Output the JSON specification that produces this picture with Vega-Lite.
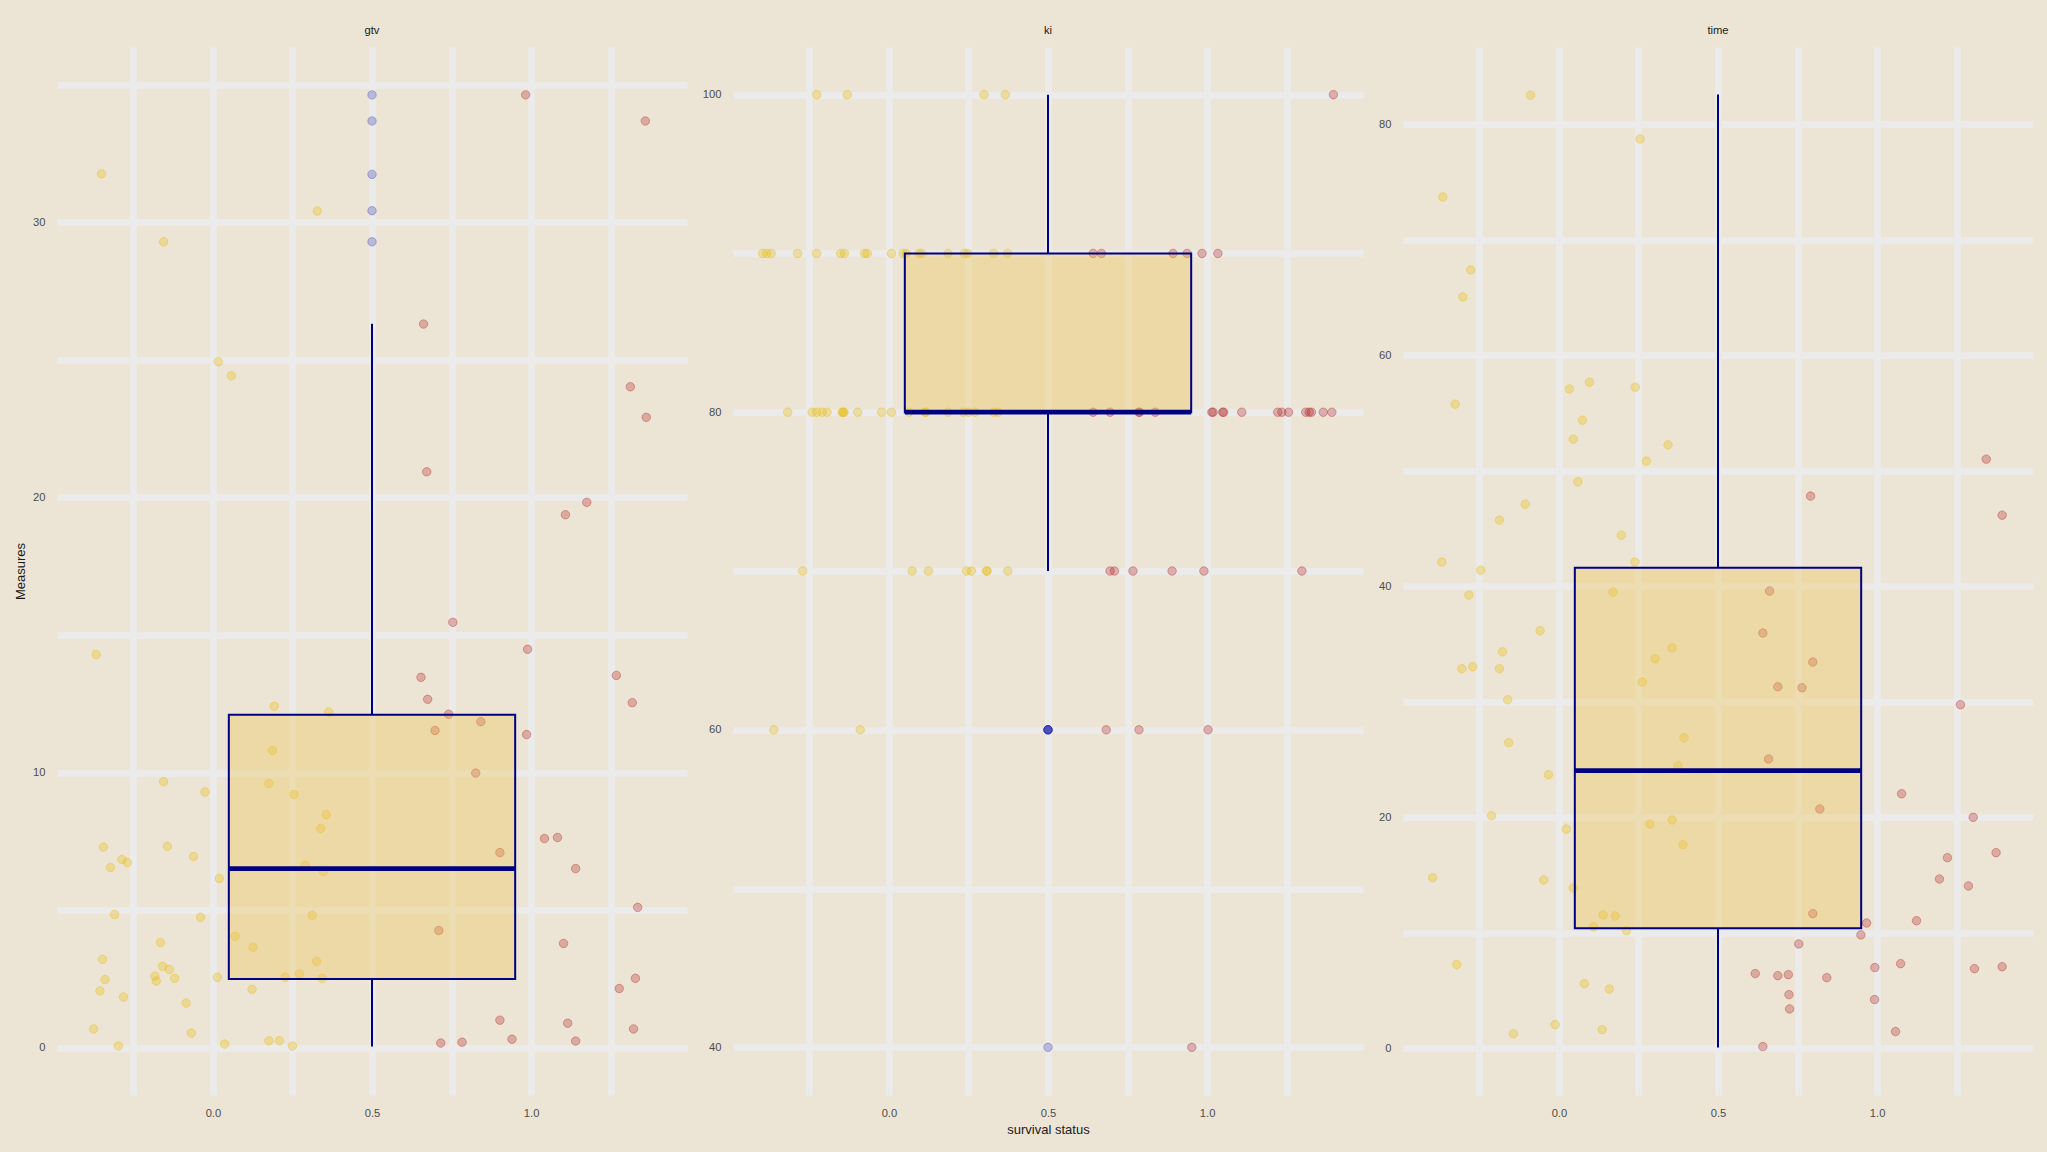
{
  "$schema": "https://vega.github.io/schema/vega-lite/v6.json",
  "background": "#ECE5D5",
  "padding": {"left": 14, "top": 24, "right": 15, "bottom": 15},
  "spacing": 15,
  "config": {
    "view": {"stroke": null},
    "font": "Liberation Sans",
    "axis": {"domain": false, "ticks": false, "grid": true, "gridColor": "#EBEBEB", "gridWidth": 6.5, "labelFontSize": 11.2, "labelColor": "#4D4D4D", "labelPadding": 12, "labelOverlap": false, "titleFontSize": 13, "titleFontWeight": "normal", "titleColor": "#1A1A1A"},
    "axisY": {"titlePadding": 5},
    "axisX": {"titlePadding": 5.5},
    "title": {"fontSize": 11.2, "fontWeight": "normal", "color": "#1A1A1A", "offset": 11, "anchor": "middle"}
  },
  "datasets": {
    "boxes": [
      {"measure": "gtv", "lo": 0.04, "q1": 2.5, "median": 6.51, "q3": 12.1, "hi": 26.31},
      {"measure": "ki", "lo": 70, "q1": 80, "median": 80, "q3": 90, "hi": 100},
      {"measure": "time", "lo": 0.07, "q1": 10.39, "median": 24.03, "q3": 41.59, "hi": 82.56}
    ],
    "outliers": [
      {"measure": "gtv", "value": 34.63}, {"measure": "gtv", "value": 33.68}, {"measure": "gtv", "value": 31.74}, {"measure": "gtv", "value": 30.42}, {"measure": "gtv", "value": 29.29},
      {"measure": "ki", "value": 60}, {"measure": "ki", "value": 60}, {"measure": "ki", "value": 60}, {"measure": "ki", "value": 60}, {"measure": "ki", "value": 60}, {"measure": "ki", "value": 40}
    ],
    "points": [
      {"measure": "gtv", "status": 0, "jitter": -0.350, "value": 31.76},
      {"measure": "gtv", "status": 0, "jitter": 0.328, "value": 30.41},
      {"measure": "gtv", "status": 0, "jitter": -0.155, "value": 29.29},
      {"measure": "gtv", "status": 0, "jitter": 0.017, "value": 24.93},
      {"measure": "gtv", "status": 0, "jitter": 0.058, "value": 24.42},
      {"measure": "gtv", "status": 0, "jitter": -0.367, "value": 14.29},
      {"measure": "gtv", "status": 0, "jitter": 0.193, "value": 12.41},
      {"measure": "gtv", "status": 0, "jitter": 0.364, "value": 12.20},
      {"measure": "gtv", "status": 0, "jitter": 0.187, "value": 10.80},
      {"measure": "gtv", "status": 0, "jitter": -0.155, "value": 9.67},
      {"measure": "gtv", "status": 0, "jitter": 0.176, "value": 9.60},
      {"measure": "gtv", "status": 0, "jitter": -0.025, "value": 9.29},
      {"measure": "gtv", "status": 0, "jitter": 0.255, "value": 9.20},
      {"measure": "gtv", "status": 0, "jitter": 0.356, "value": 8.47},
      {"measure": "gtv", "status": 0, "jitter": 0.339, "value": 7.97},
      {"measure": "gtv", "status": 0, "jitter": -0.344, "value": 7.29},
      {"measure": "gtv", "status": 0, "jitter": -0.143, "value": 7.32},
      {"measure": "gtv", "status": 0, "jitter": -0.061, "value": 6.95},
      {"measure": "gtv", "status": 0, "jitter": -0.286, "value": 6.84},
      {"measure": "gtv", "status": 0, "jitter": -0.269, "value": 6.73},
      {"measure": "gtv", "status": 0, "jitter": -0.322, "value": 6.55},
      {"measure": "gtv", "status": 0, "jitter": 0.290, "value": 6.63},
      {"measure": "gtv", "status": 0, "jitter": 0.347, "value": 6.40},
      {"measure": "gtv", "status": 0, "jitter": 0.020, "value": 6.15},
      {"measure": "gtv", "status": 0, "jitter": -0.309, "value": 4.84},
      {"measure": "gtv", "status": 0, "jitter": -0.039, "value": 4.74},
      {"measure": "gtv", "status": 0, "jitter": 0.312, "value": 4.81},
      {"measure": "gtv", "status": 0, "jitter": 0.070, "value": 4.05},
      {"measure": "gtv", "status": 0, "jitter": 0.126, "value": 3.65},
      {"measure": "gtv", "status": 0, "jitter": -0.165, "value": 3.82},
      {"measure": "gtv", "status": 0, "jitter": -0.347, "value": 3.21},
      {"measure": "gtv", "status": 0, "jitter": 0.326, "value": 3.13},
      {"measure": "gtv", "status": 0, "jitter": -0.158, "value": 2.96},
      {"measure": "gtv", "status": 0, "jitter": -0.137, "value": 2.84},
      {"measure": "gtv", "status": 0, "jitter": -0.182, "value": 2.60},
      {"measure": "gtv", "status": 0, "jitter": -0.120, "value": 2.52},
      {"measure": "gtv", "status": 0, "jitter": 0.014, "value": 2.56},
      {"measure": "gtv", "status": 0, "jitter": 0.227, "value": 2.56},
      {"measure": "gtv", "status": 0, "jitter": 0.272, "value": 2.69},
      {"measure": "gtv", "status": 0, "jitter": 0.343, "value": 2.52},
      {"measure": "gtv", "status": 0, "jitter": -0.339, "value": 2.48},
      {"measure": "gtv", "status": 0, "jitter": -0.178, "value": 2.42},
      {"measure": "gtv", "status": 0, "jitter": -0.355, "value": 2.06},
      {"measure": "gtv", "status": 0, "jitter": 0.123, "value": 2.12},
      {"measure": "gtv", "status": 0, "jitter": -0.281, "value": 1.84},
      {"measure": "gtv", "status": 0, "jitter": -0.084, "value": 1.62},
      {"measure": "gtv", "status": 0, "jitter": -0.375, "value": 0.68},
      {"measure": "gtv", "status": 0, "jitter": -0.068, "value": 0.53},
      {"measure": "gtv", "status": 0, "jitter": 0.176, "value": 0.25},
      {"measure": "gtv", "status": 0, "jitter": 0.209, "value": 0.25},
      {"measure": "gtv", "status": 0, "jitter": 0.037, "value": 0.13},
      {"measure": "gtv", "status": 0, "jitter": -0.297, "value": 0.06},
      {"measure": "gtv", "status": 0, "jitter": 0.250, "value": 0.06},
      {"measure": "gtv", "status": 1, "jitter": 0.983, "value": 34.63},
      {"measure": "gtv", "status": 1, "jitter": 1.359, "value": 33.68},
      {"measure": "gtv", "status": 1, "jitter": 0.662, "value": 26.30},
      {"measure": "gtv", "status": 1, "jitter": 1.312, "value": 24.02},
      {"measure": "gtv", "status": 1, "jitter": 1.362, "value": 22.91},
      {"measure": "gtv", "status": 1, "jitter": 0.672, "value": 20.93},
      {"measure": "gtv", "status": 1, "jitter": 1.175, "value": 19.82},
      {"measure": "gtv", "status": 1, "jitter": 1.108, "value": 19.37},
      {"measure": "gtv", "status": 1, "jitter": 0.754, "value": 15.46},
      {"measure": "gtv", "status": 1, "jitter": 0.989, "value": 14.48},
      {"measure": "gtv", "status": 1, "jitter": 0.654, "value": 13.46},
      {"measure": "gtv", "status": 1, "jitter": 1.268, "value": 13.53},
      {"measure": "gtv", "status": 1, "jitter": 0.675, "value": 12.66},
      {"measure": "gtv", "status": 1, "jitter": 1.318, "value": 12.54},
      {"measure": "gtv", "status": 1, "jitter": 0.741, "value": 12.12},
      {"measure": "gtv", "status": 1, "jitter": 0.842, "value": 11.85},
      {"measure": "gtv", "status": 1, "jitter": 0.698, "value": 11.53},
      {"measure": "gtv", "status": 1, "jitter": 0.986, "value": 11.38},
      {"measure": "gtv", "status": 1, "jitter": 0.826, "value": 9.98},
      {"measure": "gtv", "status": 1, "jitter": 1.042, "value": 7.60},
      {"measure": "gtv", "status": 1, "jitter": 1.083, "value": 7.64},
      {"measure": "gtv", "status": 1, "jitter": 0.902, "value": 7.09},
      {"measure": "gtv", "status": 1, "jitter": 1.140, "value": 6.51},
      {"measure": "gtv", "status": 1, "jitter": 1.335, "value": 5.10},
      {"measure": "gtv", "status": 1, "jitter": 0.710, "value": 4.26},
      {"measure": "gtv", "status": 1, "jitter": 1.102, "value": 3.79},
      {"measure": "gtv", "status": 1, "jitter": 1.328, "value": 2.52},
      {"measure": "gtv", "status": 1, "jitter": 1.277, "value": 2.15},
      {"measure": "gtv", "status": 1, "jitter": 0.902, "value": 1.00},
      {"measure": "gtv", "status": 1, "jitter": 1.115, "value": 0.89},
      {"measure": "gtv", "status": 1, "jitter": 1.322, "value": 0.68},
      {"measure": "gtv", "status": 1, "jitter": 0.940, "value": 0.31},
      {"measure": "gtv", "status": 1, "jitter": 1.140, "value": 0.24},
      {"measure": "gtv", "status": 1, "jitter": 0.716, "value": 0.17},
      {"measure": "gtv", "status": 1, "jitter": 0.783, "value": 0.20},
      {"measure": "ki", "status": 0, "jitter": -0.227, "value": 100},
      {"measure": "ki", "status": 0, "jitter": -0.131, "value": 100},
      {"measure": "ki", "status": 0, "jitter": 0.299, "value": 100},
      {"measure": "ki", "status": 0, "jitter": 0.366, "value": 100},
      {"measure": "ki", "status": 0, "jitter": -0.397, "value": 90},
      {"measure": "ki", "status": 0, "jitter": -0.384, "value": 90},
      {"measure": "ki", "status": 0, "jitter": -0.370, "value": 90},
      {"measure": "ki", "status": 0, "jitter": -0.287, "value": 90},
      {"measure": "ki", "status": 0, "jitter": -0.227, "value": 90},
      {"measure": "ki", "status": 0, "jitter": -0.152, "value": 90},
      {"measure": "ki", "status": 0, "jitter": -0.140, "value": 90},
      {"measure": "ki", "status": 0, "jitter": -0.076, "value": 90},
      {"measure": "ki", "status": 0, "jitter": -0.068, "value": 90},
      {"measure": "ki", "status": 0, "jitter": 0.008, "value": 90},
      {"measure": "ki", "status": 0, "jitter": 0.044, "value": 90},
      {"measure": "ki", "status": 0, "jitter": 0.054, "value": 90},
      {"measure": "ki", "status": 0, "jitter": 0.094, "value": 90},
      {"measure": "ki", "status": 0, "jitter": 0.103, "value": 90},
      {"measure": "ki", "status": 0, "jitter": 0.186, "value": 90},
      {"measure": "ki", "status": 0, "jitter": 0.237, "value": 90},
      {"measure": "ki", "status": 0, "jitter": 0.248, "value": 90},
      {"measure": "ki", "status": 0, "jitter": 0.329, "value": 90},
      {"measure": "ki", "status": 0, "jitter": 0.373, "value": 90},
      {"measure": "ki", "status": 0, "jitter": -0.318, "value": 80},
      {"measure": "ki", "status": 0, "jitter": -0.241, "value": 80},
      {"measure": "ki", "status": 0, "jitter": -0.227, "value": 80},
      {"measure": "ki", "status": 0, "jitter": -0.210, "value": 80},
      {"measure": "ki", "status": 0, "jitter": -0.195, "value": 80},
      {"measure": "ki", "status": 0, "jitter": -0.147, "value": 80},
      {"measure": "ki", "status": 0, "jitter": -0.144, "value": 80},
      {"measure": "ki", "status": 0, "jitter": -0.141, "value": 80},
      {"measure": "ki", "status": 0, "jitter": -0.098, "value": 80},
      {"measure": "ki", "status": 0, "jitter": -0.023, "value": 80},
      {"measure": "ki", "status": 0, "jitter": 0.008, "value": 80},
      {"measure": "ki", "status": 0, "jitter": 0.063, "value": 80},
      {"measure": "ki", "status": 0, "jitter": 0.113, "value": 80},
      {"measure": "ki", "status": 0, "jitter": 0.117, "value": 80},
      {"measure": "ki", "status": 0, "jitter": 0.186, "value": 80},
      {"measure": "ki", "status": 0, "jitter": 0.234, "value": 80},
      {"measure": "ki", "status": 0, "jitter": 0.250, "value": 80},
      {"measure": "ki", "status": 0, "jitter": 0.271, "value": 80},
      {"measure": "ki", "status": 0, "jitter": 0.329, "value": 80},
      {"measure": "ki", "status": 0, "jitter": 0.343, "value": 80},
      {"measure": "ki", "status": 0, "jitter": -0.271, "value": 70},
      {"measure": "ki", "status": 0, "jitter": 0.073, "value": 70},
      {"measure": "ki", "status": 0, "jitter": 0.124, "value": 70},
      {"measure": "ki", "status": 0, "jitter": 0.244, "value": 70},
      {"measure": "ki", "status": 0, "jitter": 0.259, "value": 70},
      {"measure": "ki", "status": 0, "jitter": 0.306, "value": 70},
      {"measure": "ki", "status": 0, "jitter": 0.309, "value": 70},
      {"measure": "ki", "status": 0, "jitter": 0.374, "value": 70},
      {"measure": "ki", "status": 0, "jitter": -0.362, "value": 60},
      {"measure": "ki", "status": 0, "jitter": -0.090, "value": 60},
      {"measure": "ki", "status": 1, "jitter": 1.397, "value": 100},
      {"measure": "ki", "status": 1, "jitter": 0.642, "value": 90},
      {"measure": "ki", "status": 1, "jitter": 0.668, "value": 90},
      {"measure": "ki", "status": 1, "jitter": 0.893, "value": 90},
      {"measure": "ki", "status": 1, "jitter": 0.937, "value": 90},
      {"measure": "ki", "status": 1, "jitter": 0.984, "value": 90},
      {"measure": "ki", "status": 1, "jitter": 1.034, "value": 90},
      {"measure": "ki", "status": 1, "jitter": 0.642, "value": 80},
      {"measure": "ki", "status": 1, "jitter": 0.695, "value": 80},
      {"measure": "ki", "status": 1, "jitter": 0.785, "value": 80},
      {"measure": "ki", "status": 1, "jitter": 0.788, "value": 80},
      {"measure": "ki", "status": 1, "jitter": 0.837, "value": 80},
      {"measure": "ki", "status": 1, "jitter": 1.015, "value": 80},
      {"measure": "ki", "status": 1, "jitter": 1.019, "value": 80},
      {"measure": "ki", "status": 1, "jitter": 1.049, "value": 80},
      {"measure": "ki", "status": 1, "jitter": 1.052, "value": 80},
      {"measure": "ki", "status": 1, "jitter": 1.109, "value": 80},
      {"measure": "ki", "status": 1, "jitter": 1.222, "value": 80},
      {"measure": "ki", "status": 1, "jitter": 1.235, "value": 80},
      {"measure": "ki", "status": 1, "jitter": 1.256, "value": 80},
      {"measure": "ki", "status": 1, "jitter": 1.310, "value": 80},
      {"measure": "ki", "status": 1, "jitter": 1.321, "value": 80},
      {"measure": "ki", "status": 1, "jitter": 1.328, "value": 80},
      {"measure": "ki", "status": 1, "jitter": 1.365, "value": 80},
      {"measure": "ki", "status": 1, "jitter": 1.392, "value": 80},
      {"measure": "ki", "status": 1, "jitter": 0.695, "value": 70},
      {"measure": "ki", "status": 1, "jitter": 0.709, "value": 70},
      {"measure": "ki", "status": 1, "jitter": 0.767, "value": 70},
      {"measure": "ki", "status": 1, "jitter": 0.890, "value": 70},
      {"measure": "ki", "status": 1, "jitter": 0.990, "value": 70},
      {"measure": "ki", "status": 1, "jitter": 1.298, "value": 70},
      {"measure": "ki", "status": 1, "jitter": 0.683, "value": 60},
      {"measure": "ki", "status": 1, "jitter": 0.786, "value": 60},
      {"measure": "ki", "status": 1, "jitter": 1.003, "value": 60},
      {"measure": "ki", "status": 1, "jitter": 0.952, "value": 40},
      {"measure": "time", "status": 0, "jitter": -0.089, "value": 82.50},
      {"measure": "time", "status": 0, "jitter": 0.255, "value": 78.72},
      {"measure": "time", "status": 0, "jitter": -0.365, "value": 73.70},
      {"measure": "time", "status": 0, "jitter": -0.277, "value": 67.38},
      {"measure": "time", "status": 0, "jitter": -0.302, "value": 65.04},
      {"measure": "time", "status": 0, "jitter": 0.096, "value": 57.66},
      {"measure": "time", "status": 0, "jitter": 0.033, "value": 57.08},
      {"measure": "time", "status": 0, "jitter": 0.240, "value": 57.23},
      {"measure": "time", "status": 0, "jitter": -0.326, "value": 55.76},
      {"measure": "time", "status": 0, "jitter": 0.074, "value": 54.37},
      {"measure": "time", "status": 0, "jitter": 0.045, "value": 52.73},
      {"measure": "time", "status": 0, "jitter": 0.343, "value": 52.24},
      {"measure": "time", "status": 0, "jitter": 0.275, "value": 50.83},
      {"measure": "time", "status": 0, "jitter": 0.060, "value": 49.04},
      {"measure": "time", "status": 0, "jitter": -0.106, "value": 47.10},
      {"measure": "time", "status": 0, "jitter": -0.187, "value": 45.72},
      {"measure": "time", "status": 0, "jitter": 0.196, "value": 44.42},
      {"measure": "time", "status": 0, "jitter": -0.368, "value": 42.09},
      {"measure": "time", "status": 0, "jitter": 0.239, "value": 42.09},
      {"measure": "time", "status": 0, "jitter": -0.246, "value": 41.39},
      {"measure": "time", "status": 0, "jitter": -0.283, "value": 39.23},
      {"measure": "time", "status": 0, "jitter": 0.170, "value": 39.49},
      {"measure": "time", "status": 0, "jitter": -0.059, "value": 36.14},
      {"measure": "time", "status": 0, "jitter": -0.177, "value": 34.32},
      {"measure": "time", "status": 0, "jitter": 0.356, "value": 34.67},
      {"measure": "time", "status": 0, "jitter": 0.302, "value": 33.72},
      {"measure": "time", "status": 0, "jitter": -0.305, "value": 32.85},
      {"measure": "time", "status": 0, "jitter": -0.271, "value": 33.03},
      {"measure": "time", "status": 0, "jitter": -0.187, "value": 32.85},
      {"measure": "time", "status": 0, "jitter": 0.262, "value": 31.70},
      {"measure": "time", "status": 0, "jitter": -0.161, "value": 30.17},
      {"measure": "time", "status": 0, "jitter": -0.158, "value": 26.45},
      {"measure": "time", "status": 0, "jitter": 0.393, "value": 26.88},
      {"measure": "time", "status": 0, "jitter": 0.374, "value": 24.46},
      {"measure": "time", "status": 0, "jitter": -0.033, "value": 23.68},
      {"measure": "time", "status": 0, "jitter": -0.212, "value": 20.13},
      {"measure": "time", "status": 0, "jitter": 0.023, "value": 18.98},
      {"measure": "time", "status": 0, "jitter": 0.286, "value": 19.41},
      {"measure": "time", "status": 0, "jitter": 0.356, "value": 19.76},
      {"measure": "time", "status": 0, "jitter": 0.390, "value": 17.62},
      {"measure": "time", "status": 0, "jitter": -0.397, "value": 14.76},
      {"measure": "time", "status": 0, "jitter": -0.048, "value": 14.57},
      {"measure": "time", "status": 0, "jitter": 0.045, "value": 13.87},
      {"measure": "time", "status": 0, "jitter": 0.139, "value": 11.54},
      {"measure": "time", "status": 0, "jitter": 0.177, "value": 11.45},
      {"measure": "time", "status": 0, "jitter": 0.109, "value": 10.52},
      {"measure": "time", "status": 0, "jitter": 0.212, "value": 10.18},
      {"measure": "time", "status": 0, "jitter": -0.321, "value": 7.24},
      {"measure": "time", "status": 0, "jitter": 0.080, "value": 5.59},
      {"measure": "time", "status": 0, "jitter": 0.158, "value": 5.13},
      {"measure": "time", "status": 0, "jitter": -0.012, "value": 2.04},
      {"measure": "time", "status": 0, "jitter": -0.143, "value": 1.26},
      {"measure": "time", "status": 0, "jitter": 0.136, "value": 1.61},
      {"measure": "time", "status": 1, "jitter": 1.343, "value": 51.00},
      {"measure": "time", "status": 1, "jitter": 0.791, "value": 47.80},
      {"measure": "time", "status": 1, "jitter": 1.393, "value": 46.15},
      {"measure": "time", "status": 1, "jitter": 0.662, "value": 39.58},
      {"measure": "time", "status": 1, "jitter": 0.641, "value": 35.94},
      {"measure": "time", "status": 1, "jitter": 0.798, "value": 33.43},
      {"measure": "time", "status": 1, "jitter": 0.688, "value": 31.29},
      {"measure": "time", "status": 1, "jitter": 0.764, "value": 31.21},
      {"measure": "time", "status": 1, "jitter": 1.262, "value": 29.74},
      {"measure": "time", "status": 1, "jitter": 0.659, "value": 25.04},
      {"measure": "time", "status": 1, "jitter": 1.077, "value": 22.03},
      {"measure": "time", "status": 1, "jitter": 0.820, "value": 20.71},
      {"measure": "time", "status": 1, "jitter": 1.302, "value": 19.99},
      {"measure": "time", "status": 1, "jitter": 1.374, "value": 16.93},
      {"measure": "time", "status": 1, "jitter": 1.221, "value": 16.50},
      {"measure": "time", "status": 1, "jitter": 1.196, "value": 14.65},
      {"measure": "time", "status": 1, "jitter": 1.287, "value": 14.05},
      {"measure": "time", "status": 1, "jitter": 0.798, "value": 11.65},
      {"measure": "time", "status": 1, "jitter": 1.124, "value": 11.04},
      {"measure": "time", "status": 1, "jitter": 0.967, "value": 10.84},
      {"measure": "time", "status": 1, "jitter": 0.949, "value": 9.81},
      {"measure": "time", "status": 1, "jitter": 0.754, "value": 9.03},
      {"measure": "time", "status": 1, "jitter": 1.074, "value": 7.32},
      {"measure": "time", "status": 1, "jitter": 0.993, "value": 6.98},
      {"measure": "time", "status": 1, "jitter": 1.306, "value": 6.89},
      {"measure": "time", "status": 1, "jitter": 1.393, "value": 7.06},
      {"measure": "time", "status": 1, "jitter": 0.617, "value": 6.46},
      {"measure": "time", "status": 1, "jitter": 0.688, "value": 6.28},
      {"measure": "time", "status": 1, "jitter": 0.721, "value": 6.37},
      {"measure": "time", "status": 1, "jitter": 0.842, "value": 6.11},
      {"measure": "time", "status": 1, "jitter": 0.723, "value": 4.64},
      {"measure": "time", "status": 1, "jitter": 0.992, "value": 4.21},
      {"measure": "time", "status": 1, "jitter": 0.725, "value": 3.40},
      {"measure": "time", "status": 1, "jitter": 1.058, "value": 1.44},
      {"measure": "time", "status": 1, "jitter": 0.641, "value": 0.14}
    ]
  },
  "hconcat": [
    {
      "width": 630, "height": 1048,
      "title": {"text": "gtv"},
      "layer": [
        {
          "data": {"name": "points"},
          "transform": [{"filter": "datum.measure === 'gtv'"}],
          "mark": {"type": "circle", "size": 72, "fillOpacity": 0.3, "strokeOpacity": 0.45, "strokeWidth": 0.8},
          "encoding": {
            "x": {"field": "jitter", "type": "quantitative", "title": null, "scale": {"domain": [-0.49, 1.49], "nice": false, "zero": false},
                  "axis": {"values": [-0.25, 0, 0.25, 0.5, 0.75, 1, 1.25], "labelExpr": "datum.value === 0 || datum.value === 0.5 || datum.value === 1 ? format(datum.value, '.1f') : ''"}},
            "y": {"field": "value", "type": "quantitative", "title": "Measures", "scale": {"domain": [-1.72, 36.37], "nice": false, "zero": false},
                  "axis": {"values": [0, 5, 10, 15, 20, 25, 30, 35], "labelExpr": "datum.value % 10 === 0 ? datum.label : ''"}},
            "color": {"field": "status", "type": "nominal", "scale": {"domain": [0, 1], "range": ["#E7B800", "#B22222"]}, "legend": null},
            "stroke": {"field": "status", "type": "nominal", "scale": {"domain": [0, 1], "range": ["#E7B800", "#B22222"]}, "legend": null}
          }
        },
        {
          "data": {"name": "boxes"},
          "transform": [{"filter": "datum.measure === 'gtv'"}],
          "mark": {"type": "rect", "fill": "#EFC34E", "fillOpacity": 0.35, "stroke": "#000080", "strokeWidth": 2},
          "encoding": {"x": {"datum": 0.05, "type": "quantitative", "title": null}, "x2": {"datum": 0.95}, "y": {"field": "q1", "type": "quantitative", "title": "Measures"}, "y2": {"field": "q3"}}
        },
        {
          "data": {"name": "boxes"},
          "transform": [{"filter": "datum.measure === 'gtv'"}],
          "mark": {"type": "rule", "color": "#000080", "strokeWidth": 2},
          "encoding": {"x": {"datum": 0.5, "type": "quantitative", "title": null}, "y": {"field": "lo", "type": "quantitative", "title": "Measures"}, "y2": {"field": "q1"}}
        },
        {
          "data": {"name": "boxes"},
          "transform": [{"filter": "datum.measure === 'gtv'"}],
          "mark": {"type": "rule", "color": "#000080", "strokeWidth": 2},
          "encoding": {"x": {"datum": 0.5, "type": "quantitative", "title": null}, "y": {"field": "q3", "type": "quantitative", "title": "Measures"}, "y2": {"field": "hi"}}
        },
        {
          "data": {"name": "boxes"},
          "transform": [{"filter": "datum.measure === 'gtv'"}],
          "mark": {"type": "rule", "color": "#000080", "strokeWidth": 4.7},
          "encoding": {"x": {"datum": 0.05, "type": "quantitative", "title": null}, "x2": {"datum": 0.95}, "y": {"field": "median", "type": "quantitative", "title": "Measures"}}
        },
        {
          "data": {"name": "outliers"},
          "transform": [{"filter": "datum.measure === 'gtv'"}],
          "mark": {"type": "circle", "size": 72, "color": "#2020B0", "fillOpacity": 0.25, "stroke": "#2020B0", "strokeOpacity": 0.35, "strokeWidth": 0.8},
          "encoding": {"x": {"datum": 0.5, "type": "quantitative", "title": null}, "y": {"field": "value", "type": "quantitative", "title": "Measures"}}
        }
      ]
    },
    {
      "width": 630, "height": 1048,
      "title": {"text": "ki"},
      "layer": [
        {
          "data": {"name": "points"},
          "transform": [{"filter": "datum.measure === 'ki'"}],
          "mark": {"type": "circle", "size": 72, "fillOpacity": 0.3, "strokeOpacity": 0.45, "strokeWidth": 0.8},
          "encoding": {
            "x": {"field": "jitter", "type": "quantitative", "title": "survival status", "scale": {"domain": [-0.49, 1.49], "nice": false, "zero": false},
                  "axis": {"values": [-0.25, 0, 0.25, 0.5, 0.75, 1, 1.25], "labelExpr": "datum.value === 0 || datum.value === 0.5 || datum.value === 1 ? format(datum.value, '.1f') : ''"}},
            "y": {"field": "value", "type": "quantitative", "title": null, "scale": {"domain": [37, 103], "nice": false, "zero": false},
                  "axis": {"values": [40, 50, 60, 70, 80, 90, 100], "labelExpr": "datum.value % 20 === 0 ? datum.label : ''"}},
            "color": {"field": "status", "type": "nominal", "scale": {"domain": [0, 1], "range": ["#E7B800", "#B22222"]}, "legend": null},
            "stroke": {"field": "status", "type": "nominal", "scale": {"domain": [0, 1], "range": ["#E7B800", "#B22222"]}, "legend": null}
          }
        },
        {
          "data": {"name": "boxes"},
          "transform": [{"filter": "datum.measure === 'ki'"}],
          "mark": {"type": "rect", "fill": "#EFC34E", "fillOpacity": 0.35, "stroke": "#000080", "strokeWidth": 2},
          "encoding": {"x": {"datum": 0.05, "type": "quantitative", "title": "survival status"}, "x2": {"datum": 0.95}, "y": {"field": "q1", "type": "quantitative", "title": null}, "y2": {"field": "q3"}}
        },
        {
          "data": {"name": "boxes"},
          "transform": [{"filter": "datum.measure === 'ki'"}],
          "mark": {"type": "rule", "color": "#000080", "strokeWidth": 2},
          "encoding": {"x": {"datum": 0.5, "type": "quantitative", "title": "survival status"}, "y": {"field": "lo", "type": "quantitative", "title": null}, "y2": {"field": "q1"}}
        },
        {
          "data": {"name": "boxes"},
          "transform": [{"filter": "datum.measure === 'ki'"}],
          "mark": {"type": "rule", "color": "#000080", "strokeWidth": 2},
          "encoding": {"x": {"datum": 0.5, "type": "quantitative", "title": "survival status"}, "y": {"field": "q3", "type": "quantitative", "title": null}, "y2": {"field": "hi"}}
        },
        {
          "data": {"name": "boxes"},
          "transform": [{"filter": "datum.measure === 'ki'"}],
          "mark": {"type": "rule", "color": "#000080", "strokeWidth": 4.7},
          "encoding": {"x": {"datum": 0.05, "type": "quantitative", "title": "survival status"}, "x2": {"datum": 0.95}, "y": {"field": "median", "type": "quantitative", "title": null}}
        },
        {
          "data": {"name": "outliers"},
          "transform": [{"filter": "datum.measure === 'ki'"}],
          "mark": {"type": "circle", "size": 72, "color": "#2020B0", "fillOpacity": 0.25, "stroke": "#2020B0", "strokeOpacity": 0.35, "strokeWidth": 0.8},
          "encoding": {"x": {"datum": 0.5, "type": "quantitative", "title": "survival status"}, "y": {"field": "value", "type": "quantitative", "title": null}}
        }
      ]
    },
    {
      "width": 630, "height": 1048,
      "title": {"text": "time"},
      "layer": [
        {
          "data": {"name": "points"},
          "transform": [{"filter": "datum.measure === 'time'"}],
          "mark": {"type": "circle", "size": 72, "fillOpacity": 0.3, "strokeOpacity": 0.45, "strokeWidth": 0.8},
          "encoding": {
            "x": {"field": "jitter", "type": "quantitative", "title": null, "scale": {"domain": [-0.49, 1.49], "nice": false, "zero": false},
                  "axis": {"values": [-0.25, 0, 0.25, 0.5, 0.75, 1, 1.25], "labelExpr": "datum.value === 0 || datum.value === 0.5 || datum.value === 1 ? format(datum.value, '.1f') : ''"}},
            "y": {"field": "value", "type": "quantitative", "title": null, "scale": {"domain": [-4.05, 86.68], "nice": false, "zero": false},
                  "axis": {"values": [0, 10, 20, 30, 40, 50, 60, 70, 80], "labelExpr": "datum.value % 20 === 0 ? datum.label : ''"}},
            "color": {"field": "status", "type": "nominal", "scale": {"domain": [0, 1], "range": ["#E7B800", "#B22222"]}, "legend": null},
            "stroke": {"field": "status", "type": "nominal", "scale": {"domain": [0, 1], "range": ["#E7B800", "#B22222"]}, "legend": null}
          }
        },
        {
          "data": {"name": "boxes"},
          "transform": [{"filter": "datum.measure === 'time'"}],
          "mark": {"type": "rect", "fill": "#EFC34E", "fillOpacity": 0.35, "stroke": "#000080", "strokeWidth": 2},
          "encoding": {"x": {"datum": 0.05, "type": "quantitative", "title": null}, "x2": {"datum": 0.95}, "y": {"field": "q1", "type": "quantitative", "title": null}, "y2": {"field": "q3"}}
        },
        {
          "data": {"name": "boxes"},
          "transform": [{"filter": "datum.measure === 'time'"}],
          "mark": {"type": "rule", "color": "#000080", "strokeWidth": 2},
          "encoding": {"x": {"datum": 0.5, "type": "quantitative", "title": null}, "y": {"field": "lo", "type": "quantitative", "title": null}, "y2": {"field": "q1"}}
        },
        {
          "data": {"name": "boxes"},
          "transform": [{"filter": "datum.measure === 'time'"}],
          "mark": {"type": "rule", "color": "#000080", "strokeWidth": 2},
          "encoding": {"x": {"datum": 0.5, "type": "quantitative", "title": null}, "y": {"field": "q3", "type": "quantitative", "title": null}, "y2": {"field": "hi"}}
        },
        {
          "data": {"name": "boxes"},
          "transform": [{"filter": "datum.measure === 'time'"}],
          "mark": {"type": "rule", "color": "#000080", "strokeWidth": 4.7},
          "encoding": {"x": {"datum": 0.05, "type": "quantitative", "title": null}, "x2": {"datum": 0.95}, "y": {"field": "median", "type": "quantitative", "title": null}}
        }
      ]
    }
  ]
}
